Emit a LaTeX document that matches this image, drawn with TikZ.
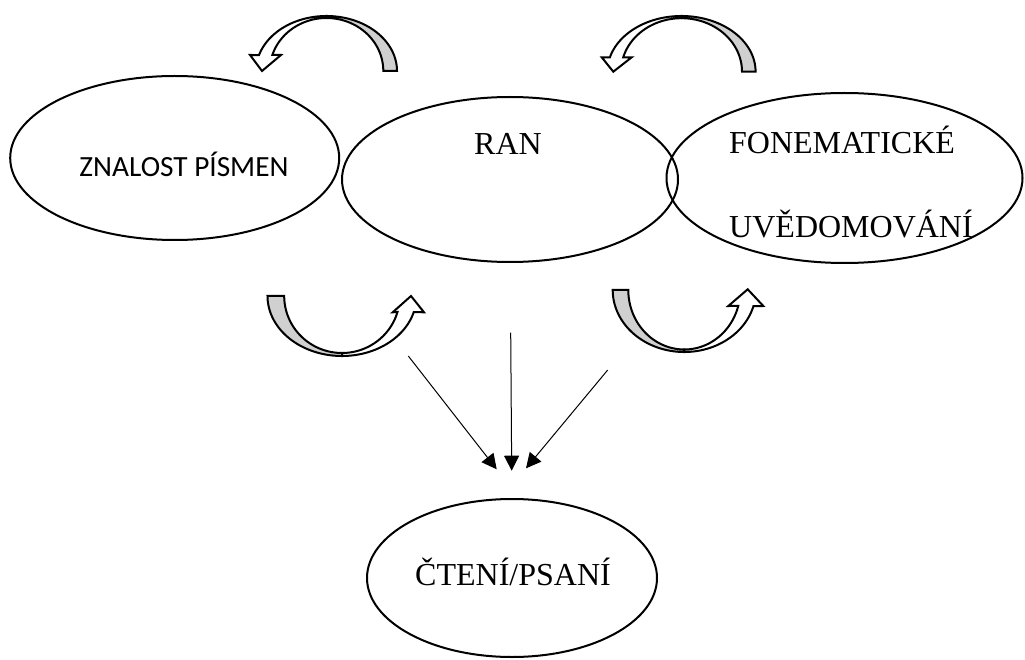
\documentclass[tikz,border=0pt]{standalone}
\usepackage{fontspec}
\setmainfont{Liberation Serif}
\newfontfamily\sansf{Carlito}
\usetikzlibrary{shapes.geometric,arrows.meta}
\definecolor{tailgray}{RGB}{208,208,208}
\begin{document}
\begin{tikzpicture}[x=1pt,y=-1pt,
  ell/.style={draw, ellipse, line width=2pt, inner sep=0pt},
  lbl/.style={anchor=base, inner sep=0pt, font=\fontsize{32}{38}\selectfont},
  tailpart/.style={fill=tailgray, draw, line width=2pt, line join=miter},
  frontpart/.style={fill=white, draw, line width=2pt, line join=miter},
  conn/.style={line width=1pt, -{Triangle[length=15pt,width=15pt]}}]
\useasboundingbox (0,0) rectangle (1025,660);

% ellipses
\node[ell, minimum width=329pt, minimum height=164pt] (e1) at (174.7,158) {};
\node[ell, minimum width=336pt, minimum height=165pt] (e2) at (510,179.5) {};
\node[ell, minimum width=356pt, minimum height=170pt] (e3) at (844.5,178) {};
\node[ell, minimum width=290pt, minimum height=158pt] (e4) at (512,578) {};

% labels
\node[lbl, font=\sansf\fontsize{29.3}{35}\selectfont] (t1) at (184,176.7) {ZNALOST PÍSMEN};
\node[lbl] (t2) at (508,155) {RAN};
\node[lbl] (t3a) at (842,154) {FONEMATICKÉ};
\node[lbl] (t3b) at (851,238) {UVĚDOMOVÁNÍ};
\node[lbl] (t4) at (513,585) {ČTENÍ/PSANÍ};

% top-left curved arrow
\filldraw[tailpart] plot[domain=0:90,samples=40] ({326.5+70.5*cos(\x)},{71-55*sin(\x)})
  -- plot[domain=90:0,samples=40] ({326.5+56.8*cos(\x)},{71-53*sin(\x)}) -- cycle;
\filldraw[frontpart] plot[domain=90:163.1,samples=40] ({326.5+70.5*cos(\x)},{71-55*sin(\x)})
  -- (250,55) -- (262,71) -- (281,55)
  -- plot[domain=162.4:90,samples=40] ({326.5+56.8*cos(\x)},{71-53*sin(\x)}) -- cycle;

% top-right curved arrow
\filldraw[tailpart] plot[domain=0:90,samples=40] ({681.5+74.1*cos(\x)},{71.7-55.7*sin(\x)})
  -- plot[domain=90:0,samples=40] ({681.5+60.5*cos(\x)},{71.7-53.5*sin(\x)}) -- cycle;
\filldraw[frontpart] plot[domain=90:165,samples=40] ({681.5+74.1*cos(\x)},{71.7-55.7*sin(\x)})
  -- (601.7,57.3) -- (613.3,71.7) -- (631.7,57.3)
  -- plot[domain=164.4:90,samples=40] ({681.5+60.5*cos(\x)},{71.7-53.5*sin(\x)}) -- cycle;

% bottom-left curved arrow
\filldraw[tailpart] plot[domain=180:90,samples=40] ({342+74.5*cos(\x)},{296+60*sin(\x)})
  -- plot[domain=90:180,samples=40] ({342+57.8*cos(\x)},{296+57*sin(\x)}) -- cycle;
\filldraw[frontpart] plot[domain=90:15.5,samples=40] ({342+74.5*cos(\x)},{296+60*sin(\x)})
  -- (424,312.3) -- (411,296) -- (392.7,312.3)
  -- plot[domain=16.3:90,samples=40] ({342+57.8*cos(\x)},{296+57*sin(\x)}) -- cycle;

% bottom-right curved arrow
\filldraw[tailpart] plot[domain=180:90,samples=40] ({684.3+71.6*cos(\x)},{290+62*sin(\x)})
  -- plot[domain=90:180,samples=40] ({684.3+56*cos(\x)},{290+59.5*sin(\x)}) -- cycle;
\filldraw[frontpart] plot[domain=90:15,samples=40] ({684.3+71.6*cos(\x)},{290+62*sin(\x)})
  -- (763.3,306) -- (747.7,289.3) -- (728.3,306)
  -- plot[domain=15.6:90,samples=40] ({684.3+56*cos(\x)},{290+59.5*sin(\x)}) -- cycle;

% straight arrows
\coordinate (s1) at (408.3,356);
\coordinate (s2) at (510.7,332.7);
\coordinate (s3) at (607.7,370);
\coordinate (d1) at (496.7,469.3);
\coordinate (d2) at (511.7,470.7);
\coordinate (d3) at (526,468.3);
\draw[conn] (s1) -- (d1);
\draw[conn] (s2) -- (d2);
\draw[conn] (s3) -- (d3);
\end{tikzpicture}
\end{document}
